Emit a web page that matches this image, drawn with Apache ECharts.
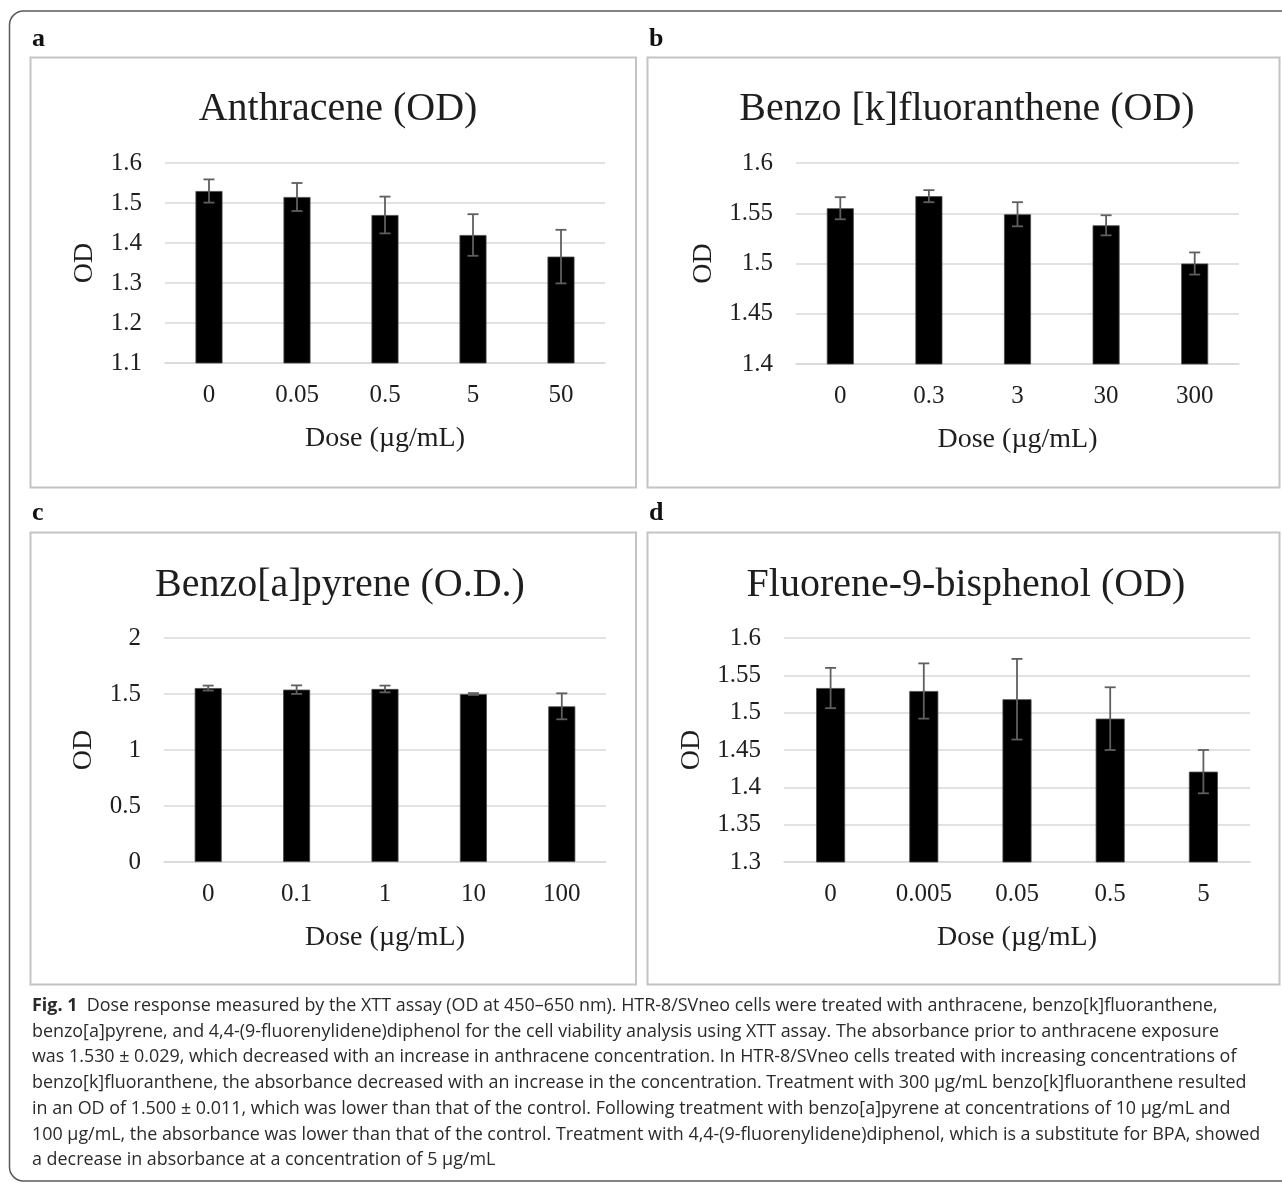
<!DOCTYPE html>
<html>
<head>
<meta charset="utf-8">
<script src="https://cdn.jsdelivr.net/npm/echarts@6/dist/echarts.min.js"></script>
<style>
html,body{margin:0;padding:0;background:#fff;}
#chart{width:1282px;height:1185px;}
</style>
</head>
<body>
<div id="chart"></div>
<script>
// ---- data ----
const titles = ['Anthracene (OD)', 'Benzo [k]fluoranthene (OD)', 'Benzo[a]pyrene (O.D.)', 'Fluorene-9-bisphenol (OD)'];
const panelLetters = ['a', 'b', 'c', 'd'];

const catsA = ['0', '0.05', '0.5', '5', '50'];
const meanA = [1.530, 1.515, 1.470, 1.420, 1.366];
const errA  = [0.029, 0.035, 0.046, 0.052, 0.067];

const catsB = ['0', '0.3', '3', '30', '300'];
const meanB = [1.555, 1.567, 1.549, 1.538, 1.500];
const errB  = [0.011, 0.006, 0.012, 0.010, 0.011];

const catsC = ['0', '0.1', '1', '10', '100'];
const meanC = [1.553, 1.539, 1.545, 1.500, 1.390];
const errC  = [0.022, 0.038, 0.030, 0.008, 0.116];

const catsD = ['0', '0.005', '0.05', '0.5', '5'];
const meanD = [1.533, 1.529, 1.518, 1.492, 1.421];
const errD  = [0.027, 0.037, 0.054, 0.042, 0.029];

const yMin = [1.1, 1.4, 0, 1.3];
const yMax = [1.6, 1.6, 2, 1.6];
const yStep = [0.1, 0.05, 0.5, 0.05];

const xName = 'Dose (µg/mL)';
const yName = 'OD';

const captionLines = [
  'Dose response measured by the XTT assay (OD at 450–650 nm). HTR-8/SVneo cells were treated with anthracene, benzo[k]fluoranthene,',
  'benzo[a]pyrene, and 4,4-(9-fluorenylidene)diphenol for the cell viability analysis using XTT assay. The absorbance prior to anthracene exposure',
  'was 1.530 ± 0.029, which decreased with an increase in anthracene concentration. In HTR-8/SVneo cells treated with increasing concentrations of',
  'benzo[k]fluoranthene, the absorbance decreased with an increase in the concentration. Treatment with 300 µg/mL benzo[k]fluoranthene resulted',
  'in an OD of 1.500 ± 0.011, which was lower than that of the control. Following treatment with benzo[a]pyrene at concentrations of 10 µg/mL and',
  '100 µg/mL, the absorbance was lower than that of the control. Treatment with 4,4-(9-fluorenylidene)diphenol, which is a substitute for BPA, showed',
  'a decrease in absorbance at a concentration of 5 µg/mL'
];

// ---- layout ----
const cats = [catsA, catsB, catsC, catsD];
const means = [meanA, meanB, meanC, meanD];
const errs = [errA, errB, errC, errD];
const grids = [
  {left: 165, top: 163, width: 440, height: 200},
  {left: 796, top: 163, width: 443, height: 201},
  {left: 164, top: 638, width: 442, height: 224},
  {left: 784, top: 638, width: 466, height: 224}
];
const boxes = [
  {x: 30.5, y: 57.5, w: 605.5, h: 430},
  {x: 647.5, y: 57.5, w: 632, h: 430},
  {x: 30.5, y: 532.5, w: 605.5, h: 452},
  {x: 647.5, y: 532.5, w: 632, h: 452}
];
const yNameGap = [66, 78, 66, 78];
const titleCenters = [[333, 84], [962, 84], [335, 560], [961, 560]];
const letterPos = [[32, 26], [649, 26], [32, 500], [649, 500]];

const SERIF = '"Liberation Serif", "Times New Roman", serif';
const TXT = '#1e1e1e';

const option = {
  animation: false,
  backgroundColor: '#fff',
  title: titles.map((t, i) => ({
    text: t,
    left: titleCenters[i][0],
    top: titleCenters[i][1],
    textAlign: 'center',
    textStyle: {fontFamily: SERIF, fontSize: 40, fontWeight: 'normal', color: TXT}
  })),
  grid: grids,
  xAxis: cats.map((c, i) => ({
    type: 'category',
    gridIndex: i,
    data: c,
    axisTick: {show: false},
    axisLine: {lineStyle: {color: '#d9d9d9', width: 1.5}},
    axisLabel: {fontFamily: SERIF, fontSize: 25, color: TXT, margin: 20},
    name: xName,
    nameLocation: 'middle',
    nameGap: 62,
    nameTextStyle: {fontFamily: SERIF, fontSize: 28, color: TXT}
  })),
  yAxis: cats.map((c, i) => ({
    type: 'value',
    gridIndex: i,
    min: yMin[i],
    max: yMax[i],
    interval: yStep[i],
    axisLine: {show: false},
    axisTick: {show: false},
    splitLine: {lineStyle: {color: '#d9d9d9', width: 1.5}},
    axisLabel: {fontFamily: SERIF, fontSize: 25, color: TXT, margin: 23,
      formatter: v => String(parseFloat(v.toFixed(3)))},
    name: yName,
    nameLocation: 'middle',
    nameGap: yNameGap[i],
    nameTextStyle: {fontFamily: SERIF, fontSize: 28, color: TXT}
  })),
  series: [],
  graphic: []
};

cats.forEach((c, i) => {
  option.series.push({
    type: 'bar',
    xAxisIndex: i,
    yAxisIndex: i,
    data: means[i],
    barWidth: i === 3 ? 29 : 27,
    itemStyle: {color: '#000', borderColor: '#4a4a4a', borderWidth: 0.8},
    z: 2
  });
  option.series.push({
    type: 'custom',
    xAxisIndex: i,
    yAxisIndex: i,
    data: means[i].map((m, k) => [k, m - errs[i][k], m + errs[i][k]]),
    z: 3,
    renderItem: function (params, api) {
      const x = api.value(0);
      const lo = api.coord([x, api.value(1)]);
      const hi = api.coord([x, api.value(2)]);
      const hw = 5.5;
      const st = {stroke: '#5f5f5f', lineWidth: 1.8};
      return {
        type: 'group',
        children: [
          {type: 'line', shape: {x1: lo[0], y1: lo[1], x2: hi[0], y2: hi[1]}, style: st},
          {type: 'line', shape: {x1: lo[0] - hw, y1: lo[1], x2: lo[0] + hw, y2: lo[1]}, style: st},
          {type: 'line', shape: {x1: hi[0] - hw, y1: hi[1], x2: hi[0] + hw, y2: hi[1]}, style: st}
        ]
      };
    }
  });
});

// outer rounded frame
option.graphic.push({
  type: 'rect',
  shape: {x: 9.5, y: 11, width: 1300, height: 1170, r: 14},
  style: {fill: 'none', stroke: '#5a5a5a', lineWidth: 1.5},
  silent: true, z: 0
});
// panel boxes
boxes.forEach(b => {
  option.graphic.push({
    type: 'rect',
    shape: {x: b.x, y: b.y, width: b.w, height: b.h},
    style: {fill: 'none', stroke: '#c4c4c4', lineWidth: 2},
    silent: true, z: 0
  });
});
// panel letters
panelLetters.forEach((l, i) => {
  option.graphic.push({
    type: 'text',
    left: letterPos[i][0], top: letterPos[i][1],
    style: {text: l, font: 'bold 26px ' + SERIF, fill: '#111'},
    silent: true
  });
});
// caption
const CAP_FONT = '"Open Sans", "Noto Sans", sans-serif';
const CAP_SIZE = 17.9;
captionLines.forEach((line, k) => {
  const isFirst = k === 0;
  option.graphic.push({
    type: 'text',
    left: 32,
    top: 997 + k * 25.7,
    style: {
      text: isFirst ? '{b|Fig. 1}  {n|' + line + '}' : line,
      fontFamily: CAP_FONT,
      fontSize: CAP_SIZE,
      fill: '#2a2a2a',
      rich: {
        b: {fontFamily: CAP_FONT, fontSize: CAP_SIZE, fontWeight: 'bold', fill: '#2a2a2a'},
        n: {fontFamily: CAP_FONT, fontSize: CAP_SIZE, fill: '#2a2a2a'}
      }
    },
    silent: true
  });
});

const chart = echarts.init(document.getElementById('chart'), null, {renderer: 'canvas'});
chart.setOption(option);
</script>
</body>
</html>
